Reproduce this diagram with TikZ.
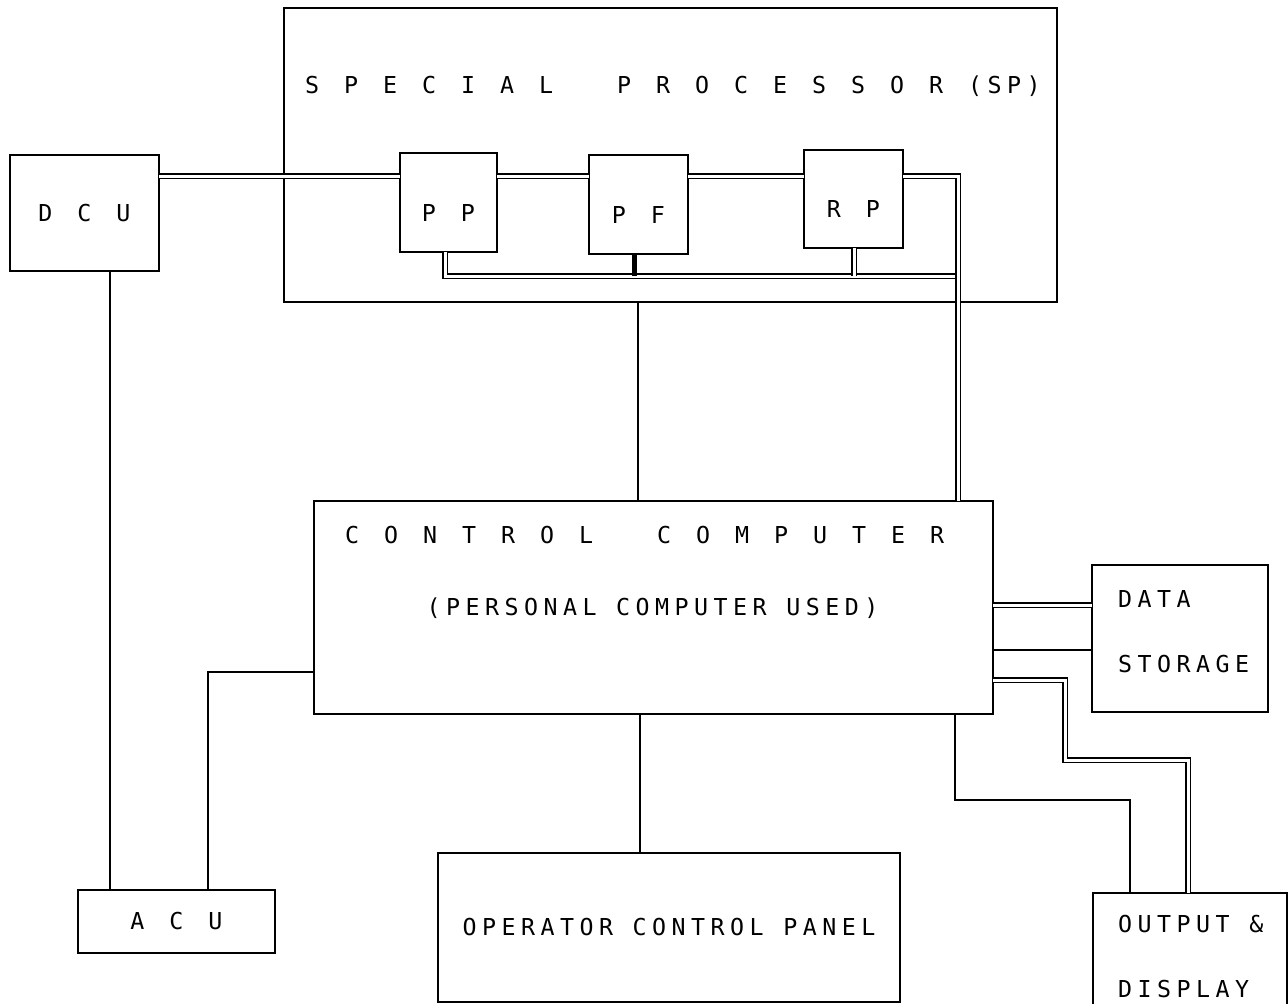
\documentclass[tikz,border=0pt]{standalone}
\usepackage{fontspec}
\newfontfamily\plotfont[LetterSpace=23.5]{DejaVu Sans Mono}
\newcommand{\plotsize}{\plotfont\fontsize{23.3}{28}\selectfont}
\newcommand{\spaced}[1]{\foreach \plotch in {#1}{\makebox[39pt][l]{\plotch}}}
\begin{document}
\begin{tikzpicture}[x=1pt,y=-1pt,
    box/.style={draw,line width=2.8pt,inner sep=0pt,outer sep=0pt,font=\plotsize},
    unit/.style={box,text height=37pt,text depth=0pt},
    lbl/.style={inner sep=0pt,font=\plotsize},
    wire/.style={line width=2.2pt},
    dbl/.style={double,double distance=3pt,line width=1.9pt}]
  \path[use as bounding box,clip] (0,0) rectangle (1288,1004);
  % blocks
  \node[box,minimum width=773,minimum height=294] (sp) at (670.5,155) {};
  \node[box,minimum width=149,minimum height=116] (dcu) at (84.5,213) {\spaced{D,C}U};
  \node[unit,minimum width=97,minimum height=99] (pp) at (448.5,202.5) {\spaced{P}P};
  \node[unit,minimum width=99,minimum height=99] (pf) at (638.5,204.5) {\spaced{P}F};
  \node[unit,minimum width=99,minimum height=98] (rp) at (853.5,199) {\spaced{R}P};
  \node[box,minimum width=679,minimum height=213] (cc) at (653.5,607.5) {};
  \node[box,minimum width=176,minimum height=147] (ds) at (1180,638.5) {};
  \node[box,minimum width=194,minimum height=167] (od) at (1190,976.5) {};
  \node[box,minimum width=197,minimum height=63] (acu) at (176.5,921.5) {\spaced{A,C}U};
  \node[box,minimum width=462,minimum height=149] (ocp) at (669,927.5) {OPERATOR CONTROL PANEL};
  % texts
  \node[lbl,anchor=base west] (sptitle) at (305,93) {\spaced{S,P,E,C,I,A,L,{},P,R,O,C,E,S,S,O,R}(SP)};
  \node[lbl,anchor=base west] (cctitle) at (345,543) {\spaced{C,O,N,T,R,O,L,{},C,O,M,P,U,T,E}R};
  \node[lbl,anchor=base] (ccnote) at (652.5,615) {(PERSONAL COMPUTER USED)};
  \node[lbl,anchor=base west] (dsdata) at (1118,607) {DATA};
  \node[lbl,anchor=base west] (dsstore) at (1118,672) {STORAGE};
  \node[lbl,anchor=base west] (odout) at (1118,932) {OUTPUT \&};
  \node[lbl,anchor=base west] (oddisp) at (1118,997) {DISPLAY};
  % taps
  \coordinate (bus) at (0,176);
  \coordinate (lowbus) at (0,276);
  \coordinate (drop) at (958,0);
  \coordinate (ppstub) at (445,0);
  \coordinate (pfstub) at (634,0);
  \coordinate (rpstub) at (854,0);
  \coordinate (sptap) at (638,0);
  \coordinate (dcudrop) at (110,0);
  \coordinate (acutap) at (208,672);
  \coordinate (ocptap) at (640,0);
  \coordinate (dslink) at (0,605);
  \coordinate (dsline) at (0,650);
  \coordinate (odlink) at (1188,680);
  \coordinate (odbus) at (1065,760);
  \coordinate (odtap) at (955,0);
  \coordinate (odline) at (1130,800);
  % signal bus through the special processor
  \draw[dbl] (dcu.east |- bus) -- (pp.west |- bus);
  \draw[dbl] (pp.east |- bus) -- (pf.west |- bus);
  \draw[dbl] (pf.east |- bus) -- (rp.west |- bus);
  \draw[dbl] (pp.south -| ppstub) |- (drop |- lowbus);
  \draw[dbl] (rp.south -| rpstub) -- (lowbus -| rpstub);
  \draw[line width=5pt] (pf.south -| pfstub) -- (lowbus -| pfstub);
  \draw[dbl] (rp.east |- bus) -| (cc.north -| drop);
  \draw[wire] (sp.south -| sptap) -- (cc.north -| sptap);
  % control lines
  \draw[wire] (dcu.south -| dcudrop) -- (acu.north -| dcudrop);
  \draw[wire] (cc.west |- acutap) -| (acu.north -| acutap);
  \draw[wire] (cc.south -| ocptap) -- (ocp.north -| ocptap);
  \draw[dbl] (cc.east |- dslink) -- (ds.west |- dslink);
  \draw[wire] (cc.east |- dsline) -- (ds.west |- dsline);
  \draw[dbl] (cc.east |- odlink) -| (odbus) -| (od.north -| odlink);
  \draw[wire] (cc.south -| odtap) |- (odline) -- (od.north -| odline);
\end{tikzpicture}
\end{document}
